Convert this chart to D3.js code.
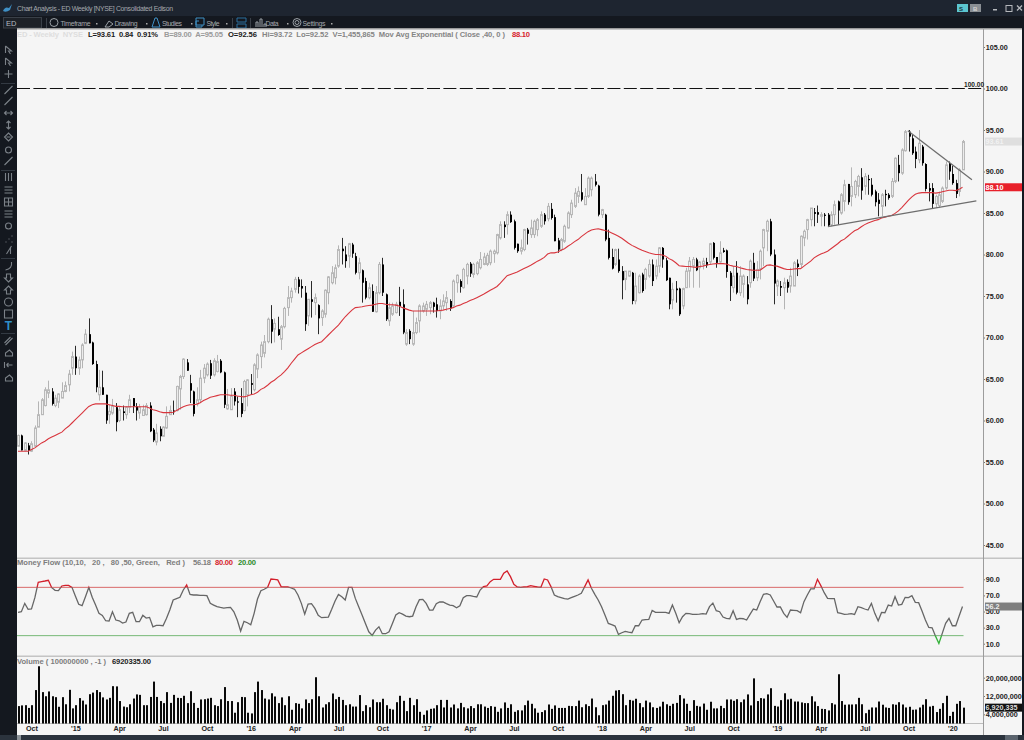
<!DOCTYPE html>
<html><head><meta charset="utf-8">
<style>html,body{margin:0;padding:0;background:#14181f;overflow:hidden}svg{display:block}text{font-family:"Liberation Sans",Arial,sans-serif;white-space:pre}</style>
<script src="https://cdnjs.cloudflare.com/ajax/libs/d3/7.8.5/d3.min.js"></script></head><body><svg id="c" width="1024" height="740"></svg>
<script>
const opens=[56.9,58.2,56.4,57.0,56.3,56.9,59.2,60.7,61.8,63.3,
63.5,61.8,62.2,62.7,63.5,64.3,66.3,67.7,66.3,67.3,
69.3,70.4,69.4,66.8,63.1,64.0,63.1,60.7,60.9,61.6,
60.0,61.1,60.7,61.6,62.7,61.7,60.9,60.6,60.7,61.8,
58.9,57.4,59.0,58.1,59.1,60.7,61.2,61.2,63.8,65.3,
67.0,64.5,63.5,62.0,62.5,65.1,65.5,66.9,65.5,65.9,
67.2,65.8,61.4,61.3,63.5,62.3,62.1,61.2,63.1,64.5,
63.7,66.2,67.7,68.1,69.5,72.2,71.0,71.0,69.8,71.3,
73.6,74.8,75.8,77.0,76.2,75.4,72.6,74.6,74.2,73.9,
72.4,72.8,75.4,76.6,77.2,78.6,80.7,80.0,79.8,81.2,
79.8,77.8,78.1,76.8,74.8,75.6,73.1,75.4,78.8,75.2,
72.0,72.8,73.0,74.3,74.0,69.2,70.8,69.2,70.6,72.0,
73.2,73.4,73.6,74.2,74.0,73.2,73.8,74.2,74.4,73.8,
76.6,76.8,76.0,77.4,78.9,77.6,77.7,78.4,78.8,78.8,
79.0,80.1,80.2,82.0,83.6,83.6,84.8,84.0,81.3,80.4,
80.6,83.0,82.4,82.4,83.0,83.4,84.8,84.3,85.5,84.5,
81.7,80.6,81.6,83.2,84.8,85.8,87.0,87.5,86.0,87.0,
87.8,88.8,88.3,84.8,84.8,82.0,79.7,78.8,79.4,78.0,
77.0,77.4,77.8,74.4,75.4,77.6,77.0,77.4,78.8,77.4,
78.6,80.8,79.3,77.2,74.5,75.9,75.9,73.8,76.0,78.0,
78.6,79.4,78.4,78.8,79.1,79.1,81.4,79.7,79.1,80.5,
80.5,77.8,76.0,77.8,75.4,76.4,76.4,76.6,79.0,77.2,
78.2,80.8,82.8,84.0,80.0,76.2,76.2,76.0,76.7,76.2,
76.2,78.9,78.8,82.0,83.0,84.2,85.1,85.1,84.6,84.8,
84.8,83.6,84.8,86.4,85.0,86.4,88.5,87.0,87.2,88.2,
89.3,88.2,89.1,88.4,87.6,86.6,85.8,87.3,87.2,87.0,
88.8,90.8,89.8,92.5,94.8,94.0,92.4,91.4,93.0,90.9,
88.0,88.0,86.1,85.9,86.4,88.0,91.0,89.7,88.6,87.6,90.2];
const closes=[58.2,56.4,57.3,56.4,57.2,59.1,60.7,62.5,63.7,63.7,
62.0,62.7,63.2,63.5,64.2,65.6,67.7,66.3,67.3,69.1,
70.4,69.3,66.8,64.0,64.0,63.1,60.0,61.1,61.7,59.8,
61.3,60.9,61.6,62.5,61.7,61.2,61.6,61.3,61.8,58.7,
57.6,58.5,58.1,59.2,60.5,61.2,61.0,64.1,65.3,67.4,
66.0,63.6,60.8,62.5,65.1,66.3,66.8,65.4,67.2,67.1,
65.8,61.9,61.9,62.9,62.3,62.2,60.8,64.7,64.9,64.3,
66.7,67.9,69.1,69.5,72.2,70.7,71.7,70.3,71.3,73.5,
74.8,75.6,77.0,76.1,75.9,71.6,74.6,74.3,74.8,72.3,
73.2,75.7,77.3,77.8,78.4,80.6,80.4,79.2,81.3,80.1,
77.8,79.0,76.6,74.8,76.0,73.1,75.4,78.8,75.4,72.2,
73.6,73.8,74.0,73.8,70.6,70.6,69.8,70.6,71.8,73.8,
73.8,74.0,74.2,73.7,73.2,73.8,74.4,74.8,73.5,76.8,
77.5,76.1,78.2,78.8,77.7,78.8,79.0,79.4,79.7,79.9,
80.4,80.4,82.4,83.6,83.3,84.8,83.9,80.8,80.4,80.8,
83.0,82.5,83.2,84.0,84.2,84.8,84.0,85.8,84.4,81.6,
80.6,81.8,83.4,85.0,86.2,87.4,87.6,86.6,87.0,89.2,
89.2,88.4,84.8,85.4,81.8,79.6,78.3,80.6,78.0,76.9,
78.0,78.0,74.4,76.2,77.4,75.6,78.2,78.8,76.8,78.6,
80.8,79.4,76.9,74.0,75.8,75.7,72.8,75.9,78.0,79.2,
79.4,78.1,79.1,79.2,78.7,81.3,79.6,79.0,80.2,80.3,
77.9,76.2,77.4,75.4,77.4,77.4,74.6,79.2,77.1,78.2,
80.4,83.0,84.0,80.0,76.5,76.8,76.0,76.6,76.0,77.4,
79.0,78.5,82.2,82.8,84.2,85.6,84.9,84.8,84.8,84.7,
83.5,84.8,86.0,85.3,87.2,88.4,86.3,88.2,88.8,89.4,
87.7,89.4,89.0,87.2,86.3,86.1,87.2,87.2,86.8,88.8,
91.6,89.8,92.6,94.8,94.2,92.2,91.5,93.4,91.0,87.9,
87.7,86.1,87.0,87.2,88.0,90.8,90.0,88.6,87.3,90.2,93.61];
const highs=[58.3,58.3,57.4,57.3,57.5,59.4,62.3,62.7,64.0,64.8,
63.9,63.1,63.3,64.6,64.7,66.1,68.3,69.0,67.7,69.3,
71.0,72.3,69.5,67.2,66.1,66.0,63.1,61.9,62.6,62.1,
61.7,61.8,61.7,63.1,62.7,62.1,62.0,61.9,62.1,62.2,
59.1,59.6,59.3,59.3,61.7,61.8,62.4,64.2,65.5,67.5,
67.4,65.5,63.6,64.0,66.1,66.8,67.0,67.3,67.5,67.9,
67.4,65.9,63.8,63.9,63.9,62.9,63.9,64.9,65.0,65.6,
66.9,68.1,69.5,70.3,72.4,73.9,72.3,72.5,71.5,73.7,
76.2,76.0,77.3,77.3,77.0,76.2,74.6,76.8,75.3,74.0,
73.4,75.8,77.4,78.6,78.8,81.1,82.0,81.0,81.4,81.4,
80.2,79.6,78.2,77.2,76.6,76.4,76.2,79.1,79.6,75.3,
74.2,74.2,74.3,76.1,75.8,71.0,71.0,73.2,72.4,74.0,
74.2,74.4,74.4,74.3,74.8,74.6,75.2,75.6,74.6,77.0,
77.6,77.0,78.4,79.0,79.1,79.0,79.2,80.3,80.2,80.2,
80.6,80.6,82.5,84.0,84.0,85.2,85.2,84.2,81.3,81.8,
83.1,83.2,84.2,84.2,84.4,85.2,85.0,86.2,86.2,84.8,
82.0,82.0,83.6,85.2,86.6,88.0,88.2,89.7,88.0,89.4,
89.4,89.7,88.4,85.5,84.9,83.0,80.7,80.7,80.7,78.6,
78.0,78.0,77.9,77.8,77.6,77.8,78.4,79.4,79.4,79.4,
80.9,80.9,79.6,77.2,76.6,76.8,76.0,76.0,78.4,79.7,
79.7,79.6,79.2,79.6,79.6,81.4,81.5,79.7,81.6,80.8,
80.6,78.0,78.6,79.2,78.6,77.6,77.4,79.4,80.2,79.2,
80.6,83.1,84.2,84.3,80.6,77.0,76.8,77.2,77.0,78.4,
79.2,79.4,82.3,83.0,84.3,85.6,85.6,85.9,85.1,85.0,
85.0,85.2,86.5,86.5,87.4,89.0,88.5,90.5,89.0,89.6,
90.4,89.8,89.6,89.2,87.8,87.4,87.4,87.8,87.4,89.2,
91.7,92.0,92.8,95.0,95.0,94.4,93.0,95.0,93.2,91.0,
88.6,88.6,87.2,87.6,88.2,91.2,91.2,90.7,89.0,90.4,93.8];
const lows=[56.9,56.4,56.3,55.9,56.2,56.9,59.2,60.7,61.7,62.7,
61.8,61.6,61.5,62.7,63.4,63.5,65.5,65.5,65.5,66.3,
69.2,69.3,66.7,63.4,62.4,63.1,59.6,59.6,60.7,58.7,
59.8,60.0,60.2,60.9,60.9,60.0,60.2,60.6,60.6,58.6,
57.4,57.0,57.5,58.1,59.0,60.7,60.7,61.1,61.3,65.0,
66.0,62.1,60.5,61.7,62.1,64.5,65.3,65.0,65.3,65.8,
65.7,61.5,61.3,61.3,61.8,60.4,60.4,61.1,61.7,63.1,
63.5,65.1,66.3,67.6,69.3,69.3,69.4,70.2,68.5,71.1,
72.6,74.2,75.4,75.3,74.8,70.8,71.4,72.4,72.7,70.4,
71.4,72.4,74.0,76.4,76.4,78.4,78.8,78.4,78.4,79.6,
77.6,77.0,74.2,74.6,74.6,73.1,73.0,75.2,75.0,72.0,
71.4,72.6,72.9,72.6,70.4,69.0,69.2,69.0,70.4,70.6,
73.0,72.6,72.8,73.0,72.4,72.2,73.4,73.2,73.2,73.7,
75.4,75.4,75.9,76.4,77.3,77.2,77.5,78.2,78.7,78.6,
78.7,79.0,80.0,81.8,82.0,82.4,83.8,80.6,80.2,80.0,
80.4,81.2,82.0,82.0,82.2,83.2,83.6,84.0,84.2,81.6,
80.2,80.4,81.4,83.1,84.4,85.6,86.2,86.4,86.0,86.8,
87.0,88.2,84.6,84.4,81.6,79.4,78.2,78.6,77.8,74.6,
75.7,77.3,74.0,74.0,75.3,75.4,75.8,77.2,76.2,77.0,
77.8,78.4,76.8,73.4,73.4,74.2,72.6,73.4,76.0,76.0,
76.0,78.0,76.0,78.2,78.4,78.8,79.4,78.4,79.0,80.2,
77.2,74.4,75.4,75.2,75.0,74.8,74.0,76.0,76.8,76.8,
77.0,78.6,80.4,79.8,74.0,75.0,75.0,73.4,75.4,75.4,
76.2,77.4,78.4,81.0,81.8,83.4,83.4,83.8,83.4,83.4,
83.4,83.4,83.6,83.6,84.8,85.2,86.0,85.8,86.8,87.0,
86.6,87.2,87.2,87.0,85.8,84.6,84.6,85.8,86.6,86.8,
88.6,88.8,89.6,92.4,92.4,92.0,90.4,91.0,90.7,87.6,
86.4,85.6,85.6,85.6,86.2,87.8,89.0,88.4,86.8,87.0,90.2];
const ema40=[56.3,56.3,56.3,56.3,56.5,56.7,57,57.3,57.5,57.8,
58,58.2,58.4,58.6,59,59.3,59.7,60.1,60.5,60.9,
61.3,61.7,61.9,62,62,62,62,61.9,61.8,61.7,
61.7,61.65,61.65,61.65,61.65,61.65,61.65,61.65,61.65,61.5,
61.3,61.2,61.05,60.95,60.95,60.95,61,61.2,61.45,61.65,
61.8,61.9,61.9,61.95,62.15,62.4,62.6,62.8,62.9,63,
63.1,63.1,63.1,63.05,63.05,62.95,62.9,62.85,62.95,63.1,
63.2,63.4,63.75,63.95,64.25,64.6,64.85,65.2,65.5,65.9,
66.35,66.9,67.4,67.9,68.15,68.4,68.65,68.9,69.15,69.35,
69.5,69.9,70.3,70.7,71.1,71.5,72,72.5,72.9,73.3,
73.6,73.65,73.7,73.8,73.85,73.9,74,74.1,74.1,74,
73.95,73.95,73.9,73.8,73.6,73.45,73.3,73.2,73.2,73.2,
73.2,73.2,73.2,73.2,73.2,73.25,73.3,73.4,73.5,73.6,
73.8,73.9,74.1,74.25,74.45,74.6,74.8,75,75.2,75.45,
75.7,75.9,76.15,76.55,77,77.45,77.6,77.75,77.9,78.1,
78.3,78.5,78.7,78.95,79.2,79.4,79.65,80.05,80.2,80.2,
80.3,80.5,80.7,81,81.25,81.55,81.8,82.15,82.45,82.75,
82.95,83.05,83.1,83,82.9,82.8,82.6,82.4,82.2,81.95,
81.65,81.35,81.1,80.9,80.7,80.5,80.35,80.2,80.1,80,
80,79.95,79.8,79.5,79.3,79,78.65,78.6,78.55,78.55,
78.5,78.45,78.55,78.6,78.7,78.8,78.85,78.9,78.9,78.9,
78.85,78.7,78.6,78.55,78.4,78.3,78.2,78.15,78.1,78.1,
78.1,78.4,78.7,78.75,78.65,78.6,78.45,78.3,78.2,78.2,
78.25,78.3,78.3,78.6,78.9,79.2,79.6,79.85,80.05,80.2,
80.4,80.7,81,81.3,81.65,81.85,82.2,82.55,82.85,83.05,
83.35,83.6,83.8,83.95,84.1,84.2,84.4,84.5,84.6,84.7,
84.95,85.25,85.65,86.1,86.55,86.95,87.25,87.4,87.45,87.45,
87.45,87.45,87.4,87.45,87.55,87.65,87.75,87.75,87.7,87.85,88.1];
const moneyFlow=[48.9,49.7,60.1,52.7,53.1,67.2,86.3,87.1,87.9,88.8,
79.6,76.3,75.9,81.7,82.5,82.5,80,69.2,58.9,57.2,
68.4,80,67.6,58,47.7,45.2,38.5,38.1,49.7,39.4,
38.5,35.6,36.9,47.7,48.9,37.3,37.3,45.2,41.9,42.7,
31,32.7,32.7,32.3,41.4,51.8,64.3,65.9,67.6,76.7,
82.9,71.3,70.5,70.5,70.1,70.1,69.7,60.1,58,56,
55.1,54.3,54.7,55.1,49.7,39.4,25.7,37.7,36,33.6,
47.7,65.5,75.9,77.6,80,90.4,90,89.2,80.9,80.5,
80.5,79.2,77.6,70.5,60.1,46.8,59.3,59.7,53.9,45.2,
42.3,42.7,43.1,52.7,63,71.3,68.4,64.3,80,80,
66.3,56,45.6,35.2,24.8,20.3,26.9,31,22.4,22.4,
24.8,35.2,45.6,48.5,46.8,44.3,43.5,44.3,56,64.7,
65.1,60.1,51.8,51.8,59.7,61.8,61.8,59.7,58,57.2,
54.7,57.2,67.2,69.7,69.7,68.8,68,76.7,80.9,81.7,
87.1,90,90,90,97.5,100.4,93.3,83.8,80.5,80,
80.5,80.9,82.1,81.3,80.5,80,90.4,89.2,80.9,70.5,
68.4,67.2,65.9,65.5,67.2,68.8,70.5,72.6,80.9,89.2,
78.8,71.3,64.3,56,45.6,35.2,33.6,31.9,21.5,23.6,
25.3,24.4,23.6,32.3,32.3,39.4,39.8,40.2,51.4,48.9,
48.9,48.9,48.9,47.7,58,47.7,36,43.5,47.7,47.3,
46.4,46.4,46.8,47.3,46.8,56,60.5,51,49.7,43.1,
41.4,41,51,40.2,41.4,41,39.4,46.4,53.1,51.8,
62.2,71.3,72.2,70.5,63,55.6,55.6,47.7,42.7,51.8,
51.4,51,48.5,62.2,70.5,78,78,90,82.1,73.4,
66.3,65.9,65.9,48.5,47.7,46.4,46.8,47.3,46.4,56,
54.7,53.1,51.8,60.1,47.7,38.5,48.9,48.5,58,56.8,
68.4,58,58.9,67.6,67.2,69.7,61.4,61,50.6,39.4,
30.2,29.8,19.4,10.2,22.8,35.2,41.4,32.3,32.3,44.3,56.18];
const volumes=[7.6,7.9,8,6.8,8,14.6,25,13.7,11.9,14,
11.9,11.5,7.3,11.5,8.4,14.7,6.6,8,11.1,10,
8.3,12.8,13.5,14.6,13.7,11.4,10.5,11.2,16.3,16.2,
9.8,7.4,7.1,8.4,10.9,12.7,12.5,8,8,11.6,
18.3,11.6,9.8,8.9,13.7,9,12.5,11.2,11.1,12.1,
8.9,14.1,9,6.8,10.5,10.6,10.9,11.2,8,7.6,
10.6,15.9,9.8,9.8,4.7,9.3,11.6,11.5,4.7,4.4,
13.7,18.3,14.6,10.9,10.5,13.2,11.8,8.9,11.4,8,
11.9,6,8.9,8.6,6.6,10.5,8.9,10.6,20.2,11.9,
7,8.4,9.3,13.1,10.6,11.6,10.3,8,8.4,7.4,
7.4,12.4,5.4,8,7.1,10.5,9.3,9.3,10.8,8,
6.4,6.1,9.3,12.1,9.9,5.4,11.2,8,10.6,5.1,
3.8,5.7,6.4,6.6,8,10.3,7,10.3,7,8.3,
6.6,9,7.1,6.6,7.6,6.7,8.4,8.4,7.4,6.8,
7.6,7.3,5.1,6.6,9.2,6.8,8.4,5.1,5.8,5.7,
8,10,8.6,6.6,4.7,5,5.8,8.3,6.4,7.9,
6.8,6.8,6.8,7.7,7.6,7.6,10,7.1,8.4,7.6,
10.9,7.1,3.6,8,8.3,10,12.1,14.4,14.6,12.8,
8,10.3,10,10.8,8.9,7.1,10,9.2,7.1,6.8,
7.4,9.5,8.4,7.7,8.6,9,12.4,10.9,8.6,5.5,
10.2,7.7,7.4,8.7,6,9.5,6.6,6.6,7.7,6.7,
10.5,10.5,9.9,10.6,9.3,10.5,12.7,7.9,19.7,9.8,
11.1,10.9,12.7,15.4,7.7,7.4,10.2,13.2,10.5,10.8,
9.6,9.6,9.2,8.9,8.9,11.9,9.6,7.6,6.4,6.3,
5.7,8.9,8.3,21.5,9.8,8.2,8.3,8.3,8.4,11.2,
8.4,4.5,6,7,7,9.6,8.2,7,6.8,8.4,
8.2,9.3,8.3,7,7.3,6,6.1,7,8.2,10.6,
7.4,7.7,5,6.4,8.9,12.1,3.3,5.1,8.6,9.8,6.92];
const weeks=d3.range(281);
const dateTickWeeks=[4,17,30,43,56,69,82,95,108,121,134,147,160,173,186,199,212,225,238,251,264,277];
const dateTickLabels=["Oct","'15","Apr","Jul","Oct","'16","Apr","Jul","Oct","'17","Apr","Jul","Oct","'18","Apr","Jul","Oct","'19","Apr","Jul","Oct","'20"];
const priceTicks=[45,50,55,60,65,70,75,80,85,90,95,100,105];
const mfTicks=[10,30,50,70,90];
const volTicks=[4,12,20];
const resistanceLine=[{w:263.8,p:94.9},{w:282.8,p:89.0}];
const supportLine=[{w:240.1,p:83.35},{w:284.1,p:86.45}];
const roundLevel=100;

const svg=d3.select("#c");
const x=d3.scaleLinear().domain([0,280]).range([18,962.5]);
const yP=d3.scaleLinear().domain([45,105]).range([545,47]);
const yM=d3.scaleLinear().domain([10,90]).range([643.7,579.3]);
const yV=d3.scaleLinear().domain([0,20]).range([723.5,677.7]);

const rect=(g,a,b,w,h,f)=>g.append("rect").attr("x",a).attr("y",b).attr("width",w).attr("height",h).attr("fill",f);
const txt=(g,a,b,s,o={})=>{const t=g.append("text").attr("x",a).attr("y",b).text(s).attr("font-size",o.size||7.6).attr("font-weight",o.w||"bold").attr("fill",o.c||"#222").attr("text-anchor",o.a||"start").attr("font-family",o.f||null);if(o.len)t.attr("textLength",o.len).attr("lengthAdjust","spacing");return t;};

// chrome
rect(svg,0,0,1024,740,"#14181f");
rect(svg,0,0,1024,16,"#1e2530");
rect(svg,17,29,1005,706,"#f5f5f5");
rect(svg,0,735,1024,5,"#2b333d");
rect(svg,17,735,4,5,"#8b9298");
rect(svg,1005,735,13,5,"#5b646e");
svg.append("path").attr("d","M3 11 Q5 6 9 8 L12 4 L10 10 Q6 13 3 11Z").attr("fill","#3f8fc4");
txt(svg,17,11,"Chart Analysis - ED Weekly [NYSE] Consolidated Edison",{size:6.9,w:"normal",c:"#a4a8ad",f:"'Open Sans'",len:156});
const tb=svg.append("g");
tb.append("rect").attr("x",3.5).attr("y",17.5).attr("width",38).attr("height",10.5).attr("fill","#1d2127").attr("stroke","#3a4048");
txt(tb,6,25.5,"ED",{size:7.5,w:"normal",c:"#b6bbc0",f:"'Open Sans'"});
[["Timeframe",60.5,30],["Drawing",114.5,23],["Studies",162,20],["Style",206.5,13],["Data",265.5,13],["Settings",302.5,23]].forEach(d=>txt(tb,d[1],26,d[0],{size:6.9,w:"normal",c:"#a4a8ad",f:"'Open Sans'",len:d[2]}));
[["M50 22.5a4 4 0 1 0 8 0a4 4 0 1 0 -8 0","#9aa0a6"],["M105 27l4-6l4 3l-4 3z","#9aa0a6"],["M152 27l3-9h2l3 9z","#3f8fc4"],["M196 18h8v7h-8z M199 21h-3v6h6v-2","#3f8fc4"],["M237 18h9v4h-9z M237 24h9v4h-9z","#2a6f9e"],["M256 27v-5h2v5 M260 27v-8h2v8 M264 27v-3h2v3","#9aa0a6"],["M293 22.5a4 4 0 1 0 8 0a4 4 0 1 0 -8 0M295 22.5a2 2 0 1 0 4 0a2 2 0 1 0 -4 0","#9aa0a6"]].forEach(d=>tb.append("path").attr("d",d[0]).attr("fill","none").attr("stroke",d[1]));
[96,146,191,226,287,331].forEach(a=>rect(tb,a,23,1.5,1.5,"#aaa"));
[46,232,250].forEach(a=>rect(tb,a,18,1,10,"#3a4048"));
rect(svg,957,4,11,8,"#5cc5cf"); rect(svg,970,4,11,8,"#8a8f94");
txt(svg,959,10.5,"S",{size:6,c:"#17323a"}); txt(svg,973,10.5,"B",{size:6,c:"#d5d5d5"});
rect(svg,993,9,4,1.5,"#b5b8bc");
svg.append("rect").attr("x",1006).attr("y",5.5).attr("width",6).attr("height",6).attr("fill","none").attr("stroke","#b5b8bc");
svg.append("path").attr("d","M1017 5.5l5 5M1022 5.5l-5 5").attr("stroke","#b5b8bc").attr("stroke-width",1.3);

// sidebar tools
const side=svg.append("g").attr("fill","none").attr("stroke","#7b8188").attr("stroke-width",1.1);
const glyphs={arrow:"M-3 -4L3 1L0 1L2 4M-3 -4V3",cross:"M-4 0H4M0 -4V4",wrench:"M-4 4L1 -1L4 -4",horiz:"M-4 0H4M-2 -2L-4 0L-2 2M2 -2L4 0L2 2",vert:"M0 -4V4M-2 -2L0 -4L2 -2M-2 2L0 4L2 2",diam:"M0 -4L4 0L0 4L-4 0Z M-2 0H2",round:"M-3 0a3 3 0 1 0 6 0a3 3 0 1 0 -6 0",bars:"M-3 -4V4M0 -4V4M3 -4V4",fib:"M-4 -3H4M-4 0H4M-4 3H4",grid:"M-4 -4H4V4H-4ZM-4 0H4M0 -4V4",dots:"M-3 3h1M0 0h1M3 -3h1M3 3h1",slash:"M-2 4L3 -4M2 4V-3",arc:"M-3 4Q4 3 3 -4",up:"M0 -4L4 0H2V4H-2V0H-4Z",down:"M0 4L4 0H2V-4H-2V0H-4Z",circ:"M-4 0a4 4 0 1 0 8 0a4 4 0 1 0 -8 0",sq:"M-4 -4H4V4H-4Z",pen:"M-3 4L4 -3M-4 2L2 -4",stamp:"M-3 3H4V0L1 -3L-3 0Z",arrowL:"M-4 -3V3M-2 0H4M-2 0L0 -2M-2 0L0 2"};
[[50,"arrow"],[62,"arrow"],[74,"cross"],[90,"wrench"],[101,"wrench"],[113,"horiz"],[125,"vert"],[137,"diam"],[150,"round"],[161,"wrench"],[177,"bars"],[190,"fib"],[202,"grid"],[214,"fib"],[226,"round"],[239,"dots"],[250,"slash"],[266,"arc"],[278,"down"],[290,"up"],[302,"circ"],[314,"sq"],[341,"pen"],[353,"stamp"],[365,"arrowL"],[378,"stamp"]].forEach(d=>side.append("path").attr("transform",`translate(8.5,${d[0]})`).attr("d",glyphs[d[1]]));
txt(svg,8.5,330,"T",{size:12,c:"#2f8fc9",a:"middle"});
[83,170,258,333].forEach(y=>rect(svg,1,y,14,1,"#333a43"));

// separators
[558,656].forEach(y=>rect(svg,17,y-0.5,1005,1.5,"#c4c4c4"));
rect(svg,17,723,967,1,"#bdbdbd");
rect(svg,983,29,1,706,"#9c9c9c");
rect(svg,17,28,1005,1.5,"#9a9a9a");

// round number line
svg.append("line").attr("x1",17).attr("x2",982).attr("y1",yP(roundLevel)).attr("y2",yP(roundLevel)).attr("stroke","#111").attr("stroke-width",1).attr("stroke-dasharray","13 3.4");
txt(svg,964,86.5,"100.00",{size:6.6,c:"#222"});

// candles
const bars=weeks.map(i=>({i,o:opens[i],h:highs[i],l:lows[i],c:closes[i]}));
const px=i=>Math.round(x(i));
const isUp=d=>d.c>=d.o;
const candle=svg.append("g").selectAll("g").data(bars).join("g");
candle.append("line").attr("x1",d=>px(d.i)+0.5).attr("x2",d=>px(d.i)+0.5).attr("y1",d=>yP(d.h)).attr("y2",d=>yP(d.l)).attr("stroke",d=>isUp(d)?"#b4b4b4":"#2a2a2a").attr("stroke-width",1);
candle.append("rect").attr("x",d=>isUp(d)?px(d.i)-0.5:px(d.i)).attr("width",2).attr("y",d=>yP(Math.max(d.o,d.c))).attr("height",d=>Math.max(isUp(d)?0.5:1.2,Math.abs(yP(d.o)-yP(d.c)))).attr("fill",d=>isUp(d)?"#ececec":"#000").attr("stroke",d=>isUp(d)?"#b8b8b8":"none").attr("stroke-width",1);

// moving average
svg.append("path").datum(ema40).attr("fill","none").attr("stroke","#d8353d").attr("stroke-width",1.1).attr("d",d3.line().x((d,i)=>x(i)).y(d=>yP(d)));

// trend lines
const tl=d3.line().x(d=>x(d.w)).y(d=>yP(d.p));
[resistanceLine,supportLine].forEach(l=>svg.append("path").datum(l).attr("fill","none").attr("stroke","#6e6e6e").attr("stroke-width",1.3).attr("d",tl));

// money flow
const xEnd=x(280);
svg.append("line").attr("x1",17).attr("x2",xEnd+1).attr("y1",yM(80)).attr("y2",yM(80)).attr("stroke","#d86a6a").attr("stroke-width",1);
svg.append("line").attr("x1",17).attr("x2",xEnd+1).attr("y1",yM(20)).attr("y2",yM(20)).attr("stroke","#76b876").attr("stroke-width",1);
const defs=svg.append("defs");
defs.append("clipPath").attr("id","ob").append("rect").attr("x",17).attr("y",560).attr("width",970).attr("height",yM(80)-560);
defs.append("clipPath").attr("id","os").append("rect").attr("x",17).attr("y",yM(20)).attr("width",970).attr("height",655-yM(20));
defs.append("clipPath").attr("id","mid").append("rect").attr("x",17).attr("y",yM(80)).attr("width",970).attr("height",yM(20)-yM(80));
const mfl=d3.line().x((d,i)=>x(i)).y(d=>yM(d));
[["mid","#666"],["ob","#d3202c"],["os","#35b23a"]].forEach(d=>svg.append("path").datum(moneyFlow).attr("clip-path",`url(#${d[0]})`).attr("fill","none").attr("stroke",d[1]).attr("stroke-width",1.3).attr("d",mfl));

// volume
svg.append("g").selectAll("rect").data(weeks).join("rect").attr("x",i=>px(i)).attr("width",2).attr("y",i=>yV(volumes[i])).attr("height",i=>yV(0)-yV(volumes[i])).attr("fill","#0a0a0a");

// axes
function styleAxis(g){g.select(".domain").remove();g.selectAll("line").attr("stroke","#777");g.selectAll("text").attr("font-family","'Liberation Sans',Arial,sans-serif").attr("font-weight","bold").attr("font-size",7.2).attr("fill","#222");}
svg.append("g").attr("transform","translate(984,0)").call(d3.axisRight(yP).tickValues(priceTicks).tickFormat(d3.format(".2f")).tickSize(1).tickPadding(0.8)).call(styleAxis);
svg.append("g").attr("transform","translate(984,0)").call(d3.axisRight(yM).tickValues(mfTicks).tickFormat(d3.format(".1f")).tickSize(1).tickPadding(0.8)).call(styleAxis);
svg.append("g").attr("transform","translate(984,0)").call(d3.axisRight(yV).tickValues(volTicks).tickFormat(v=>d3.format(",")(v*1e6)).tickSize(1).tickPadding(0.8)).call(styleAxis);
svg.append("g").attr("transform","translate(0,724)").call(d3.axisBottom(x).tickValues(dateTickWeeks).tickFormat((d,i)=>dateTickLabels[i]).tickSize(0).tickPadding(2)).call(styleAxis);

// value tags
const tag=(y,s,bg,fg)=>{rect(svg,985,y-4,37,8,bg);txt(svg,985.5,y+2.8,s,{size:7.2,c:fg});};
tag(yP(closes[280]),"93.61","#dfdfdf","#f2f2f2");
tag(yP(ema40[280]),"88.10","#e8202a","#fff");
tag(yM(moneyFlow[280]),"56.2","#7f7f7f","#eee");
tag(yV(volumes[280]),"6,920,335","#111","#ddd");

// headers
const y0=37;
txt(svg,17,y0,"ED - Weekly  NYSE",{c:"#dedede",len:66});
txt(svg,88,y0,"L=93.61  0.84  0.91%",{c:"#1a1a1a",len:70});
txt(svg,164,y0,"B=89.00  A=95.05",{c:"#9a9a9a",len:59});
txt(svg,228,y0,"O=92.56",{c:"#1a1a1a",len:29});
txt(svg,262,y0,"Hi=93.72  Lo=92.52  V=1,455,865  Mov Avg Exponential ( Close ,40, 0 )",{c:"#858585",len:243});
txt(svg,512,y0,"88.10",{c:"#d5232c",len:18});
const y1=565;
txt(svg,17,y1,"Money Flow (10,10,   20 ,   80 ,50, Green,   Red )",{c:"#7d7d7d",len:168});
txt(svg,193,y1,"56.18",{c:"#7d7d7d",len:18});
txt(svg,215,y1,"80.00",{c:"#d5232c",len:18});
txt(svg,238,y1,"20.00",{c:"#2a8a2a",len:18});
const y2=664;
txt(svg,17,y2,"Volume ( 100000000 , -1 )",{c:"#7d7d7d",len:89});
txt(svg,112,y2,"6920335.00",{c:"#222",len:39});
</script></body></html>
